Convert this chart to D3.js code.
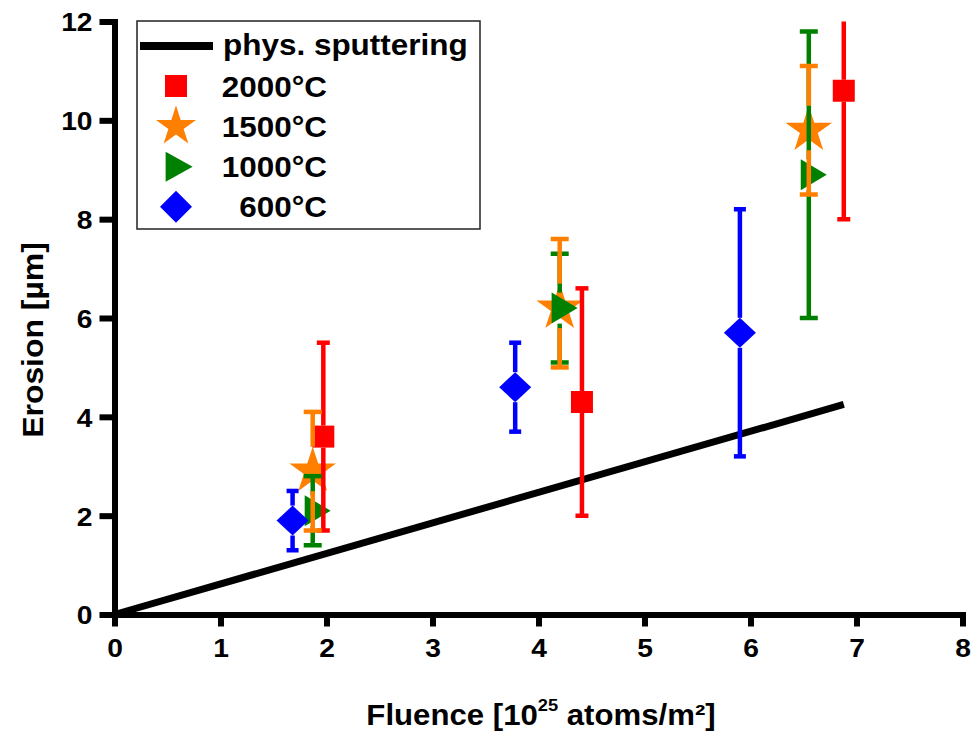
<!DOCTYPE html>
<html>
<head>
<meta charset="utf-8">
<script src="https://cdn.jsdelivr.net/npm/d3@7"></script>
<style>
  body { margin: 0; background: #fff; }
  text { font-family: "Liberation Sans", Arial, sans-serif; font-weight: bold; fill: #000; }
</style>
</head>
<body>
<svg id="chart" width="976" height="737"></svg>
<script>
// data
var xTicks = [0, 1, 2, 3, 4, 5, 6, 7, 8];
var yTicks = [0, 2, 4, 6, 8, 10, 12];

var sputterX = [0, 6.88];
var sputterY = [0, 4.25];

var redX   = [1.97, 4.41, 6.88];
var redY   = [3.6, 4.3, 10.6];
var redLo  = [1.7, 2.0, 8.0];
var redHi  = [5.5, 6.6, 13.2];

var orangeX  = [1.87, 4.2, 6.55];
var orangeY  = [2.9, 6.2, 9.8];
var orangeLo = [1.7, 5.0, 8.5];
var orangeHi = [4.1, 7.6, 11.1];

var greenX  = [1.87, 4.2, 6.55];
var greenY  = [2.1, 6.2, 8.9];
var greenLo = [1.4, 5.1, 6.0];
var greenHi = [2.8, 7.3, 11.8];

var blueX  = [1.68, 3.78, 5.9];
var blueY  = [1.9, 4.6, 5.7];
var blueLo = [1.3, 3.7, 3.2];
var blueHi = [2.5, 5.5, 8.2];

var svg = d3.select("#chart");

var x = d3.scaleLinear().domain([0, 8]).range([114.5, 962.5]);
var y = d3.scaleLinear().domain([0, 12]).range([614.5, 21.5]);

var SX = 1.085; // the original font is a bit wider than Liberation Sans

// marker shapes
var starPath = function (R) {
  var r = R * 0.382, p = [];
  for (var k = 0; k < 10; k++) {
    var a = -Math.PI / 2 + k * Math.PI / 5;
    var rr = (k % 2 === 0) ? R : r;
    p.push([rr * Math.cos(a), rr * Math.sin(a)]);
  }
  return "M" + p.join("L") + "Z";
};
var squarePath   = function (s) { return "M" + (-s/2) + "," + (-s/2) + "h" + s + "v" + s + "h" + (-s) + "Z"; };
var trianglePath = function (w, h) { return "M" + (-w * 0.31) + "," + (-h/2) + "L" + (w * 0.69) + ",0L" + (-w * 0.31) + "," + (h/2) + "Z"; };
var diamondPath  = function (w, h) { return "M0," + (-h/2) + "L" + (w/2) + ",0L0," + (h/2) + "L" + (-w/2) + ",0Z"; };

var series = [
  { name: "2000°C", color: "#ff0000", xs: redX, ys: redY, lo: redLo, hi: redHi,
    shape: squarePath(22), legendShape: squarePath(22), gapTop: 11, gapBot: 11, cap: 13 },
  { name: "1500°C", color: "#ff8000", xs: orangeX, ys: orangeY, lo: orangeLo, hi: orangeHi,
    shape: starPath(24.5), legendShape: starPath(21), gapTop: 24.5, gapBot: 20, cap: 18 },
  { name: "1000°C", color: "#008000", xs: greenX, ys: greenY, lo: greenLo, hi: greenHi,
    shape: trianglePath(26, 31), legendShape: trianglePath(27, 30), gapTop: 15.5, gapBot: 15.5, cap: 18 },
  { name: "600°C", color: "#0000ff", xs: blueX, ys: blueY, lo: blueLo, hi: blueHi,
    shape: diamondPath(32, 30), legendShape: diamondPath(32, 32), gapTop: 15, gapBot: 15, cap: 12 }
];

svg.append("defs").append("clipPath").attr("id", "plotclip")
  .append("rect").attr("x", 0).attr("y", y(12)).attr("width", 976).attr("height", 700);

var plot = svg.append("g").attr("clip-path", "url(#plotclip)");

// physical sputtering line
plot.append("path")
  .datum(d3.range(sputterX.length))
  .attr("d", d3.line().x(function (i) { return x(sputterX[i]); }).y(function (i) { return y(sputterY[i]); }))
  .attr("stroke", "#000").attr("stroke-width", 7).attr("fill", "none");

// markers
series.forEach(function (s) {
  plot.selectAll(null).data(d3.range(s.xs.length)).enter()
    .append("path")
      .attr("transform", function (i) { return "translate(" + x(s.xs[i]) + "," + y(s.ys[i]) + ")"; })
      .attr("d", s.shape)
      .attr("fill", s.color);
});

// error bars, with a gap at the own symbol
[3, 0, 2, 1].forEach(function (k) {
  var s = series[k];
  var g = plot.append("g").attr("stroke", s.color).attr("fill", "none");
  s.xs.forEach(function (xv, i) {
    var cx = x(xv), cy = y(s.ys[i]);
    var top = y(s.hi[i]), bot = y(s.lo[i]);
    g.append("line").attr("x1", cx).attr("x2", cx).attr("y1", top).attr("y2", cy - s.gapTop).attr("stroke-width", 4.5);
    g.append("line").attr("x1", cx).attr("x2", cx).attr("y1", cy + s.gapBot).attr("y2", bot).attr("stroke-width", 4.5);
    g.append("line").attr("x1", cx - s.cap / 2).attr("x2", cx + s.cap / 2).attr("y1", top).attr("y2", top).attr("stroke-width", 4.5);
    g.append("line").attr("x1", cx - s.cap / 2).attr("x2", cx + s.cap / 2).attr("y1", bot).attr("y2", bot).attr("stroke-width", 4.5);
  });
});

// axes
var xAxis = svg.append("g")
  .attr("transform", "translate(0," + y(0) + ")")
  .call(d3.axisBottom(x).tickValues(xTicks).tickFormat(d3.format("d")).tickSizeInner(12).tickSizeOuter(0).tickPadding(12));
var yAxis = svg.append("g")
  .attr("transform", "translate(" + x(0) + ",0)")
  .call(d3.axisLeft(y).tickValues(yTicks).tickFormat(d3.format("d")).tickSizeInner(15).tickSizeOuter(0).tickPadding(7));

[xAxis, yAxis].forEach(function (a) {
  a.select(".domain").attr("stroke", "#000").attr("stroke-width", 6).attr("stroke-linecap", "square");
  a.selectAll(".tick line").attr("stroke", "#000").attr("stroke-width", 6);
  a.selectAll(".tick text").style("font-size", "26px").style("font-family", "'Liberation Sans', Arial, sans-serif")
    .style("font-weight", "bold").attr("fill", "#000")
    .attr("transform", "scale(" + SX + ",1)");
});
yAxis.selectAll(".tick text").attr("dy", "0.36em").attr("x", -22 / SX);

// axis titles
svg.append("text")
  .attr("transform", "translate(43,340) rotate(-90) scale(1.1,1)")
  .attr("text-anchor", "middle")
  .style("font-size", "29px")
  .text("Erosion [µm]");

var xt = svg.append("text")
  .attr("transform", "translate(541,725) scale(1.075,1)")
  .attr("text-anchor", "middle")
  .style("font-size", "29px");
xt.append("tspan").text("Fluence [10");
xt.append("tspan").attr("dy", -14).style("font-size", "17px").text("25");
xt.append("tspan").attr("dy", 14).text(" atoms/m²]");

// legend
var lg = svg.append("g");
lg.append("rect").attr("x", 137).attr("y", 21).attr("width", 343).attr("height", 208)
  .attr("fill", "#fff").attr("stroke", "#222").attr("stroke-width", 1.5);
lg.append("line").attr("x1", 140).attr("x2", 213).attr("y1", 46).attr("y2", 46)
  .attr("stroke", "#000").attr("stroke-width", 8);
lg.append("text").attr("transform", "translate(223,55) scale(" + SX + ",1)")
  .style("font-size", "29px").text("phys. sputtering");

var legendY = [86, 126.6, 166.7, 206.7];
series.forEach(function (s, i) {
  lg.append("path")
    .attr("transform", "translate(" + (i === 2 ? 174 : 176) + "," + legendY[i] + ")")
    .attr("d", s.legendShape)
    .attr("fill", s.color);
  lg.append("text").attr("transform", "translate(327," + (96.7 + i * 40) + ") scale(" + SX + ",1)")
    .attr("text-anchor", "end")
    .style("font-size", "29px").text(s.name);
});
</script>
</body>
</html>
